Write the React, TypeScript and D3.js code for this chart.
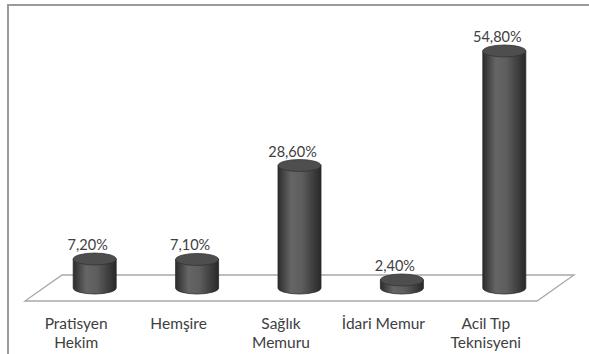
import React from "react";
import * as d3 from "d3";

const categories: string[][] = [
  ["Pratisyen", "Hekim"],
  ["Hemşire"],
  ["Sağlık", "Memuru"],
  ["İdari Memur"],
  ["Acil Tıp", "Teknisyeni"],
];
const values: number[] = [7.2, 7.1, 28.6, 2.4, 54.8];
const valueLabels: string[] = ["7,20%", "7,10%", "28,60%", "2,40%", "54,80%"];

const W = 589;
const H = 354;
const FONT = "Lato, 'Open Sans', sans-serif";

export default function App() {
  const floorFrontY = 301;
  const floorLeft = 25;
  const floorRight = 537;
  const depthX = 37;
  const depthY = 26;
  const x = d3
    .scaleBand<number>()
    .domain(values.map((_, i) => i))
    .range([floorLeft, floorRight]);
  const y = d3.scaleLinear().domain([0, 54.8]).range([290.5, 51]);
  const bw = 43;
  const rx = bw / 2;
  const ry = 6;
  const baseY = floorFrontY - depthY / 2;

  const floorPts: [number, number][] = [
    [floorLeft + depthX, floorFrontY - depthY],
    [floorRight + depthX, floorFrontY - depthY],
    [floorRight, floorFrontY],
    [floorLeft, floorFrontY],
  ];

  return (
    <svg
      width={W}
      height={H}
      style={{ position: "absolute", left: 0, top: 0, background: "#fff" }}
    >
      <defs>
        <linearGradient id="cyl" x1="0" x2="1" y1="0" y2="0">
          <stop offset="0%" stopColor="#2c2c2c" />
          <stop offset="30%" stopColor="#656565" />
          <stop offset="55%" stopColor="#5e5e5e" />
          <stop offset="100%" stopColor="#282828" />
        </linearGradient>
      </defs>
      <rect x={8} y={5} width={700} height={500} fill="#fff" stroke="#9a9a9a" strokeWidth={2} />
      <polygon
        points={floorPts.map((p) => p.join(",")).join(" ")}
        fill="#fff"
        stroke="#a8a8a8"
        strokeWidth={1.3}
      />
      {values.map((v, i) => {
        const cx = (x(i) as number) + x.bandwidth() / 2 + depthX / 2;
        const top = Math.min(y(v), baseY - 3);
        const bottom = baseY;
        const side = `M${cx - rx},${top} L${cx - rx},${bottom} A${rx},${ry} 0 0 0 ${cx + rx},${bottom} L${cx + rx},${top} Z`;
        return (
          <g key={i}>
            <path d={side} fill="url(#cyl)" stroke="#2a2a2a" strokeWidth={0.8} />
            <ellipse cx={cx} cy={top} rx={rx} ry={ry} fill="#4e4e4e" stroke="#333" strokeWidth={0.8} />
            <text
              x={cx - 7}
              y={top - ry - 3}
              textAnchor="middle"
              fontFamily={FONT}
              fontSize={14.5}
              fill="#404040"
            >
              {valueLabels[i]}
            </text>
          </g>
        );
      })}
      {categories.map((lines, i) => {
        const cx = (x(i) as number) + x.bandwidth() / 2;
        return (
          <text key={i} textAnchor="middle" fontFamily={FONT} fontSize={15.5} fill="#404040">
            {lines.map((l, j) => (
              <tspan key={j} x={cx} y={329 + j * 19}>
                {l}
              </tspan>
            ))}
          </text>
        );
      })}
    </svg>
  );
}
